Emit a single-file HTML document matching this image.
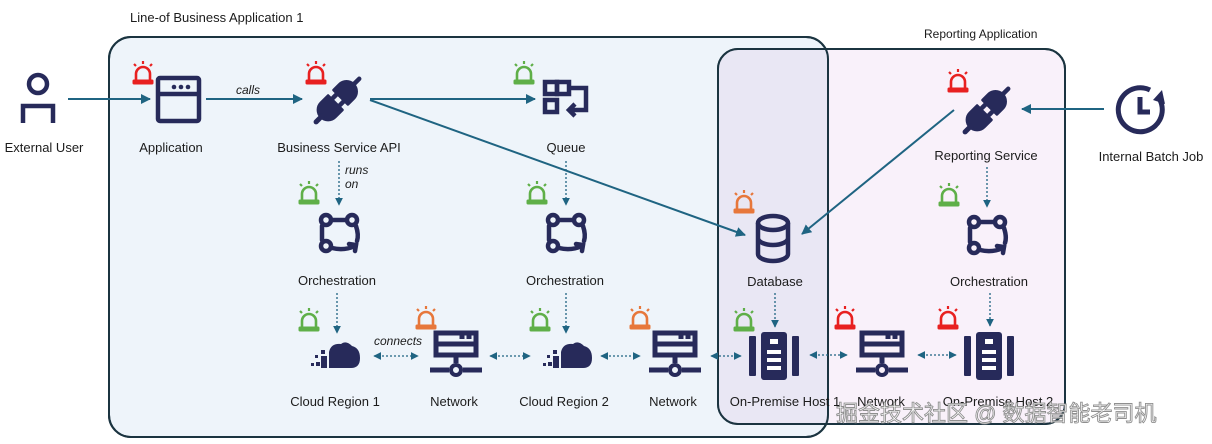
<!DOCTYPE html>
<html><head><meta charset="utf-8">
<style>
html,body{margin:0;padding:0;background:#fff;}
svg{display:block;}
text{font-family:"Liberation Sans","Noto Sans CJK SC",sans-serif;font-size:13px;fill:#1c1c1c;}
.lbl{text-anchor:middle;}
.it{font-style:italic;font-size:12px;}
</style></head><body>
<svg width="1212" height="444" viewBox="0 0 1212 444" xmlns="http://www.w3.org/2000/svg">
<defs>
<marker id="ah" viewBox="0 0 10 10" refX="9" refY="5" markerWidth="5" markerHeight="5" orient="auto-start-reverse"><path d="M0,0 L10,5 L0,10 z" fill="#1f6482"/></marker>
<marker id="ahs" viewBox="0 0 10 10" refX="9" refY="5" markerWidth="6" markerHeight="6" orient="auto-start-reverse"><path d="M0,0 L10,5 L0,10 z" fill="#1f6482"/></marker>
<g id="alarm">
<path d="M-7,6 V0 A7,7 0 0 1 7,0 V6" fill="none" stroke-width="2.6"/>
<rect x="-10" y="6" width="20" height="4" rx="1"/>
<path d="M0,-13 V-10 M-9,-10 L-7,-8 M9,-10 L7,-8" stroke-width="2.2" fill="none"/>
</g>
<g id="plug">
<g transform="rotate(-45)">
<path d="M-4,-10 H-14 A10,10 0 0 0 -14,10 H-4 z" fill="#272a5a" stroke="#272a5a" stroke-width="3" stroke-linejoin="round"/>
<path d="M-23,0 H-31" stroke="#272a5a" stroke-width="5" stroke-linecap="round"/>
<path d="M4,-10 H12 A10,10 0 0 1 12,10 H4 z" fill="#272a5a" stroke="#272a5a" stroke-width="3" stroke-linejoin="round"/>
<path d="M4,-5 H-2 M4,5 H-2 M21,0 H30" stroke="#272a5a" stroke-width="4.5" stroke-linecap="round"/>
</g>
</g>
<g id="orch" fill="none" stroke="#272a5a" stroke-width="4.5" stroke-linecap="round">
<circle cx="-13" cy="-13" r="5"/><circle cx="13" cy="-13" r="5"/><circle cx="-13" cy="13" r="5"/>
<path d="M-7,-13 H7 M-17,-7 V7 M17,-7 Q20,2 18,8 M-7,15 Q5,18 16,13"/>
<path d="M10,11 L17,12 L16,18"/>
</g>
<g id="cloud" fill="#272a5a">
<path d="M-4,12 V-4 Q-2,-13 8,-12 Q13,-16 19,-10 Q27,-8 27,2 Q27,12 18,12 z"/>
<rect x="-12" y="0" width="6" height="12"/><rect x="-17" y="6" width="4" height="4"/><rect x="-12" y="-6" width="4" height="4"/><rect x="-18" y="-1" width="3" height="3"/><rect x="-22" y="7" width="3" height="3"/>
</g>
<g id="net" fill="none" stroke="#272a5a" stroke-width="5">
<rect x="-20" y="-20" width="40" height="22"/><path d="M-20,-9 H20 M6,-20 V-14 M13,-20 V-14 M0,2 V10 M-26,17 H-7 M7,17 H26"/><circle cx="0" cy="17" r="5" stroke-width="4"/>
</g>
<g id="host" fill="#272a5a">
<rect x="-25" y="-20" width="7" height="40" rx="1"/><rect x="18" y="-20" width="7" height="40" rx="1"/>
<rect x="-13" y="-24" width="26" height="48" rx="3"/>
<rect x="-4" y="-17" width="8" height="5" fill="#fff"/><rect x="-7" y="-6" width="14" height="4" fill="#fff"/><rect x="-7" y="2" width="14" height="4" fill="#fff"/><rect x="-7" y="10" width="14" height="4" fill="#fff"/>
</g>
</defs>

<text x="130" y="22" style="font-size:13px">Line-of Business Application 1</text>
<text x="924" y="38" style="font-size:12px">Reporting Application</text>

<rect x="109" y="37" width="719" height="400" rx="22" fill="#eef4fa" stroke="#1b3440" stroke-width="2"/>
<rect x="718" y="49" width="347" height="375" rx="20" fill="#f9f1fa" stroke="#1b3440" stroke-width="2"/>
<path d="M738,49 H828 V424 H738 A20,20 0 0 1 718,404 V69 A20,20 0 0 1 738,49 z" fill="#e9e7f4"/>
<rect x="718" y="49" width="347" height="375" rx="20" fill="none" stroke="#1b3440" stroke-width="2"/>
<rect x="109" y="37" width="719" height="400" rx="22" fill="none" stroke="#1b3440" stroke-width="2"/>

<g stroke="#1f6482" stroke-width="2" fill="none">
<line x1="68" y1="99" x2="150" y2="99" marker-end="url(#ah)"/>
<line x1="206" y1="99" x2="302" y2="99" marker-end="url(#ah)"/>
<line x1="370" y1="99" x2="535" y2="99" marker-end="url(#ah)"/>
<line x1="370" y1="100" x2="745" y2="235" marker-end="url(#ah)"/>
<line x1="954" y1="110" x2="802" y2="234" marker-end="url(#ah)"/>
<line x1="1104" y1="109" x2="1022" y2="109" marker-end="url(#ah)"/>
</g>
<g stroke="#1f6482" stroke-width="1.3" fill="none" stroke-dasharray="2,2">
<line x1="339" y1="161" x2="339" y2="205" marker-end="url(#ahs)"/>
<line x1="566" y1="161" x2="566" y2="205" marker-end="url(#ahs)"/>
<line x1="987" y1="167" x2="987" y2="207" marker-end="url(#ahs)"/>
<line x1="337" y1="293" x2="337" y2="333" marker-end="url(#ahs)"/>
<line x1="566" y1="293" x2="566" y2="333" marker-end="url(#ahs)"/>
<line x1="775" y1="293" x2="775" y2="327" marker-end="url(#ahs)"/>
<line x1="990" y1="293" x2="990" y2="326" marker-end="url(#ahs)"/>
<line x1="374" y1="356" x2="418" y2="356" marker-start="url(#ahs)" marker-end="url(#ahs)"/>
<line x1="490" y1="356" x2="530" y2="356" marker-start="url(#ahs)" marker-end="url(#ahs)"/>
<line x1="601" y1="356" x2="640" y2="356" marker-start="url(#ahs)" marker-end="url(#ahs)"/>
<line x1="711" y1="356" x2="741" y2="356" marker-start="url(#ahs)" marker-end="url(#ahs)"/>
<line x1="810" y1="355" x2="847" y2="355" marker-start="url(#ahs)" marker-end="url(#ahs)"/>
<line x1="918" y1="355" x2="956" y2="355" marker-start="url(#ahs)" marker-end="url(#ahs)"/>
</g>
<text x="236" y="94" class="it">calls</text>
<text x="345" y="174" class="it">runs</text>
<text x="345" y="188" class="it">on</text>
<text x="374" y="345" class="it">connects</text>

<g fill="none" stroke="#272a5a" stroke-width="4.5">
<circle cx="38" cy="84" r="9"/><path d="M23,123 V106 H53 V123"/>
</g>
<g fill="none" stroke="#272a5a" stroke-width="4.5">
<rect x="158" y="78" width="41" height="43" rx="2"/><path d="M158,94 H199"/>
</g>
<g fill="#272a5a"><circle cx="174" cy="87" r="2.3"/><circle cx="181" cy="87" r="2.3"/><circle cx="188" cy="87" r="2.3"/></g>
<use href="#plug" x="338" y="100"/>
<use href="#plug" x="987" y="110"/>
<g fill="none" stroke="#272a5a" stroke-width="4.5">
<rect x="545" y="82" width="12" height="12"/><rect x="557" y="82" width="12" height="12"/><rect x="545" y="100" width="12" height="12"/>
<path d="M569,88 H586 V110 H570 M575,104 L569,110 L575,116"/>
</g>
<use href="#orch" x="339" y="233"/>
<use href="#orch" x="566" y="233"/>
<use href="#orch" x="987" y="235"/>
<g fill="none" stroke="#272a5a" stroke-width="4.5">
<ellipse cx="773" cy="223" rx="15" ry="7"/><path d="M758,223 V254 A15,7 0 0 0 788,254 V223 M758,238 A15,7 0 0 0 788,238"/>
</g>
<g fill="none" stroke="#272a5a" stroke-width="5">
<path d="M1160,100 A22,22 0 1 1 1150,90"/><path d="M1140,97 V112 H1150"/>
</g>
<path d="M1162,90 L1165,104 L1153,100 z" fill="#272a5a"/>
<use href="#cloud" x="333" y="356"/>
<use href="#cloud" x="565" y="356"/>
<use href="#net" x="456" y="353"/>
<use href="#net" x="675" y="353"/>
<use href="#net" x="882" y="353"/>
<use href="#host" x="774" y="356"/>
<use href="#host" x="989" y="356"/>

<g fill="#e82020" stroke="#e82020">
<use href="#alarm" x="143" y="74"/><use href="#alarm" x="316" y="74"/><use href="#alarm" x="958" y="82"/><use href="#alarm" x="845" y="319"/><use href="#alarm" x="948" y="319"/>
</g>
<g fill="#5faf48" stroke="#5faf48">
<use href="#alarm" x="524" y="74"/><use href="#alarm" x="309" y="194"/><use href="#alarm" x="537" y="194"/><use href="#alarm" x="949" y="196"/><use href="#alarm" x="309" y="321"/><use href="#alarm" x="540" y="321"/><use href="#alarm" x="744" y="321"/>
</g>
<g fill="#e7773b" stroke="#e7773b">
<use href="#alarm" x="744" y="203"/><use href="#alarm" x="426" y="319"/><use href="#alarm" x="640" y="319"/>
</g>

<text x="44" y="152" class="lbl">External User</text>
<text x="171" y="152" class="lbl">Application</text>
<text x="339" y="152" class="lbl">Business Service API</text>
<text x="566" y="152" class="lbl">Queue</text>
<text x="986" y="160" class="lbl">Reporting Service</text>
<text x="1151" y="161" class="lbl">Internal Batch Job</text>
<text x="337" y="285" class="lbl">Orchestration</text>
<text x="565" y="285" class="lbl">Orchestration</text>
<text x="775" y="286" class="lbl">Database</text>
<text x="989" y="286" class="lbl">Orchestration</text>
<text x="335" y="406" class="lbl">Cloud Region 1</text>
<text x="454" y="406" class="lbl">Network</text>
<text x="564" y="406" class="lbl">Cloud Region 2</text>
<text x="673" y="406" class="lbl">Network</text>
<text x="785" y="406" class="lbl">On-Premise Host 1</text>
<text x="881" y="406" class="lbl">Network</text>
<text x="998" y="406" class="lbl">On-Premise Host 2</text>
<text x="836" y="421" style="font-size:22px;fill:#ffffff;stroke:#8a8a8a;stroke-width:0.9;opacity:0.95">掘金技术社区 @ 数据智能老司机</text>
</svg>
</body></html>
